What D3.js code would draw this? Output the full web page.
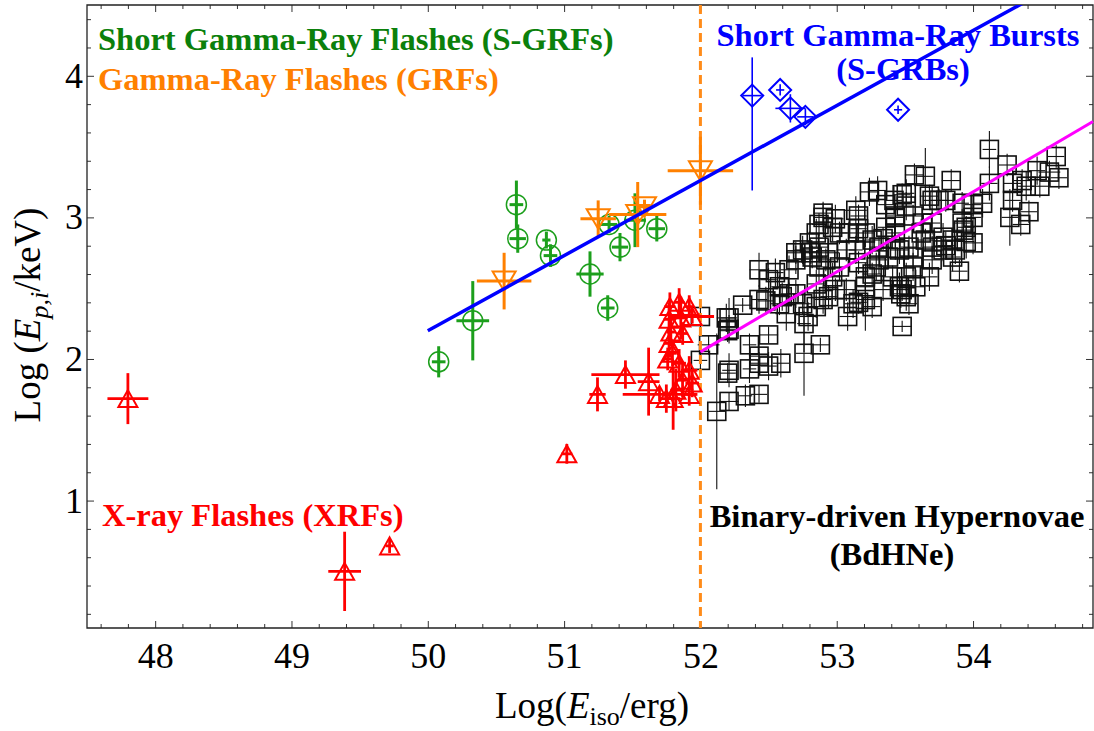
<!DOCTYPE html>
<html><head><meta charset="utf-8">
<script src="https://cdn.jsdelivr.net/npm/d3@7"></script>
<style>
body{margin:0;background:#fff}
svg{display:block}
text{font-family:"Liberation Serif","Times New Roman",serif}
</style>
</head><body>
<svg id="c" width="1094" height="731"></svg>
<script>
// ---------------- DATA ----------------
const xTicks = [48, 49, 50, 51, 52, 53, 54];
const yTicks = [1, 2, 3, 4];

// Short Gamma-Ray Flashes: [logE, logEp, xErr, yErr]
const sgrf = [
  [50.08, 1.98, 0.05, 0.11], [50.33, 2.27, 0.12, 0.28], [50.65, 3.09, 0.05, 0.17],
  [50.66, 2.85, 0.06, 0.10], [50.87, 2.84, 0.03, 0.06], [50.90, 2.73, 0.05, 0.08],
  [51.19, 2.60, 0.10, 0.16], [51.32, 2.36, 0.05, 0.09], [51.33, 2.95, 0.06, 0.06],
  [51.41, 2.79, 0.06, 0.10], [51.52, 2.98, 0.08, 0.19], [51.68, 2.92, 0.06, 0.09]
];
// Gamma-Ray Flashes
const grf = [
  [50.56, 2.55, 0.20, 0.20], [51.25, 2.99, 0.13, 0.13], [51.54, 3.02, 0.21, 0.23],
  [51.59, 3.075, 0.05, 0.05], [52.00, 3.33, 0.24, 0.24]
];
// Short GRBs: [logE, logEp, xLo, xHi, yLo, yHi]
const sgrb = [
  [52.38, 3.86, 0.07, 0.07, 0.67, 0.27], [52.585, 3.90, 0.03, 0.03, 0.04, 0.04],
  [52.66, 3.77, 0.11, 0.11, 0.10, 0.10], [52.77, 3.71, 0.06, 0.06, 0.06, 0.06],
  [53.45, 3.76, 0.03, 0.03, 0.03, 0.03]
];
// X-ray Flashes
const xrf = [
  [47.80, 1.72, 0.15, 0.18], [49.39, 0.50, 0.12, 0.28], [49.72, 0.68, 0.03, 0.05],
  [51.02, 1.33, 0.04, 0.07], [51.245, 1.75, 0.06, 0.12], [51.45, 1.89, 0.25, 0.10],
  [51.62, 1.84, 0.08, 0.24], [51.70, 1.75, 0.27, 0.05], [51.80, 1.72, 0.05, 0.22],
  [51.776, 2.37, 0.04, 0.10], [51.844, 2.40, 0.04, 0.10], [51.918, 2.37, 0.03, 0.08],
  [51.77, 2.28, 0.04, 0.12], [51.856, 2.29, 0.05, 0.15], [51.94, 2.30, 0.16, 0.05],
  [51.783, 2.19, 0.03, 0.10], [51.87, 2.18, 0.04, 0.08], [51.77, 2.11, 0.04, 0.10],
  [51.795, 2.04, 0.03, 0.09], [51.844, 1.97, 0.05, 0.10], [51.76, 2.00, 0.03, 0.08],
  [51.918, 1.92, 0.06, 0.10], [51.869, 1.85, 0.05, 0.12], [51.94, 1.83, 0.05, 0.10],
  [51.82, 1.78, 0.04, 0.15], [51.918, 1.75, 0.06, 0.08], [51.75, 1.72, 0.05, 0.10]
];
// Binary-driven Hypernovae: [logE, logEp, xErr, yErr]
const bdhn = [
  [52.00,2.30,0.06,0.08],[52.06,2.10,0.08,0.07],[52.00,1.99,0.05,0.10],[52.19,2.29,0.07,0.10],
  [52.20,2.20,0.06,0.08],[52.21,1.92,0.05,0.12],[52.12,1.63,0.06,0.55],[52.21,1.70,0.07,0.06],
  [52.33,1.74,0.05,0.08],[52.43,1.75,0.06,0.06],[52.20,1.90,0.06,0.07],[52.36,1.93,0.05,0.10],
  [52.43,1.97,0.07,0.08],[52.50,1.95,0.06,0.10],[52.59,1.97,0.06,0.10],[52.76,2.04,0.06,0.30],
  [52.88,2.10,0.07,0.05],[52.36,2.10,0.05,0.08],[52.43,2.02,0.06,0.10],[52.50,2.17,0.07,0.06],
  [52.21,2.21,0.07,0.10],[52.21,2.29,0.06,0.14],[52.31,2.38,0.06,0.05],[52.43,2.42,0.06,0.10],
  [52.43,2.63,0.07,0.12],[52.55,2.61,0.06,0.10],[52.58,2.51,0.06,0.08],[52.63,2.32,0.08,0.12],
  [52.70,2.70,0.06,0.10],[52.76,2.25,0.05,0.20],[52.75,2.39,0.06,0.08],[52.70,2.46,0.07,0.10],
  [52.82,2.72,0.08,0.08],[52.85,2.53,0.06,0.10],[52.87,2.65,0.07,0.12],[52.90,3.00,0.07,0.10],
  [52.87,2.95,0.05,0.08],[52.99,2.99,0.06,0.10],[53.02,2.89,0.06,0.08],[52.94,2.75,0.08,0.10],
  [52.94,2.44,0.06,0.08],[53.02,2.65,0.06,0.10],[53.07,2.77,0.07,0.08],[53.08,2.30,0.06,0.10],
  [53.14,3.05,0.08,0.10],[53.16,2.92,0.06,0.08],[53.14,2.77,0.05,0.10],[53.16,2.68,0.06,0.08],
  [53.21,2.51,0.06,0.10],[53.21,2.42,0.07,0.22],[53.24,3.18,0.07,0.10],[53.26,2.37,0.06,0.08],
  [53.26,2.84,0.06,0.10],[53.34,2.85,0.07,0.08],[53.36,3.09,0.06,0.10],[53.41,2.58,0.08,0.08],
  [53.42,3.12,0.06,0.10],[53.43,2.78,0.06,0.08],[53.47,2.46,0.07,0.10],[53.48,2.23,0.07,0.04],
  [53.51,3.17,0.06,0.10],[53.53,2.79,0.06,0.08],[53.56,2.65,0.06,0.10],[53.57,3.30,0.07,0.08],
  [53.58,2.51,0.06,0.12],[53.62,2.89,0.06,0.10],[53.65,3.29,0.06,0.20],[53.68,3.15,0.07,0.08],
  [53.70,2.70,0.06,0.10],[53.75,3.12,0.06,0.08],[53.80,2.80,0.06,0.10],[53.84,3.26,0.07,0.08],
  [53.90,2.62,0.06,0.08],[53.92,2.96,0.06,0.10],[53.93,2.91,0.06,0.08],[53.95,2.83,0.06,0.12],
  [54.00,3.09,0.06,0.08],[54.07,3.10,0.07,0.10],[54.12,3.24,0.06,0.12],[54.12,3.48,0.05,0.13],
  [54.25,3.37,0.06,0.08],[54.27,3.00,0.06,0.20],[54.35,2.95,0.06,0.08],[54.29,3.24,0.07,0.10],
  [54.41,3.04,0.06,0.08],[54.39,3.22,0.06,0.10],[54.49,3.22,0.07,0.08],[54.47,3.33,0.06,0.10],
  [54.56,3.32,0.08,0.08],[54.63,3.28,0.06,0.08],[54.61,3.43,0.06,0.08],[54.29,3.12,0.06,0.08],
  [54.36,3.26,0.06,0.08],[53.30,3.19,0.06,0.10],[53.48,3.16,0.06,0.08],[53.70,3.12,0.06,0.10],
  [53.80,3.12,0.06,0.08],[53.92,3.10,0.05,0.08],[53.09,2.89,0.06,0.08],[53.43,3.00,0.06,0.10],
  [53.51,3.08,0.06,0.10],[52.81,2.75,0.06,0.08],[52.87,2.79,0.07,0.10],[52.92,2.70,0.06,0.08],
  [52.97,2.58,0.06,0.10],[53.07,2.49,0.07,0.08],[53.12,2.39,0.06,0.10],[53.16,2.40,0.06,0.08],
  [53.21,2.58,0.06,0.10],[53.26,2.60,0.07,0.08],[53.31,2.70,0.06,0.10],[53.38,2.72,0.06,0.08],
  [53.46,2.77,0.07,0.10],[53.48,2.49,0.06,0.08],[53.51,2.44,0.06,0.10],[53.53,2.39,0.06,0.08],
  [53.46,2.51,0.06,0.10],[53.34,2.49,0.07,0.08],[53.29,2.65,0.06,0.10],[52.99,2.49,0.06,0.08],
  [52.90,2.42,0.06,0.10],[52.85,2.37,0.07,0.08],[52.79,2.30,0.06,0.10],[52.65,2.46,0.06,0.08],
  [52.60,2.44,0.06,0.10],[52.58,2.39,0.07,0.08],[52.48,2.41,0.06,0.10],[52.50,2.56,0.06,0.08],
  [52.65,2.63,0.06,0.10],[52.70,2.75,0.07,0.08],[52.75,2.77,0.06,0.10],[52.80,2.82,0.06,0.08],
  [52.85,2.89,0.06,0.10],[52.90,3.03,0.07,0.08],[52.97,2.93,0.06,0.10],[53.16,3.01,0.06,0.08],
  [53.21,2.89,0.06,0.10],[53.31,2.79,0.07,0.08],[53.36,2.93,0.06,0.10],[53.43,3.01,0.06,0.08],
  [53.43,2.89,0.06,0.10],[53.56,3.01,0.07,0.08],[53.63,2.96,0.06,0.10],[53.70,2.96,0.06,0.08],
  [53.78,2.86,0.06,0.10],[53.85,2.84,0.07,0.08],[53.87,2.77,0.06,0.10],[53.95,2.93,0.06,0.08],
  [54.00,3.00,0.06,0.10],[54.00,2.82,0.07,0.08],[53.85,2.72,0.06,0.10],[53.78,2.77,0.06,0.08],
  [53.68,2.58,0.06,0.10],[53.70,2.79,0.07,0.08],[53.56,2.72,0.06,0.10],[53.65,2.84,0.06,0.08],
  [53.51,2.58,0.06,0.10]
];
// fit lines: [[x0,y0],[x1,y1]]
const sgrbFit = [[50.0, 2.20], [54.88, 4.786]];
const bdhnFit = [[52.0, 2.05], [54.88, 3.677]];
const dividerX = 52;

// ---------------- CHART ----------------
const SERIF = "'Liberation Serif','Times New Roman',serif";
const svg = d3.select("#c");
const x = d3.scaleLinear().domain([47.5, 54.88]).range([87, 1093]);
const y = d3.scaleLinear().domain([0.1, 4.5]).range([628, 5]);

const C = {green:"#1c9f1c", greenT:"#0b800b", orange:"#ff8000", red:"#ff0000",
           blue:"#0000ff", mag:"#ff00ff", black:"#000"};

svg.append("defs").append("clipPath").attr("id","clip")
  .append("rect").attr("x",87).attr("y",5).attr("width",1007).attr("height",623);

const minorX = d3.range(476, 549, 2).map(v => v/10).filter(v => xTicks.indexOf(v) < 0);
const minorY = d3.range(2, 45, 2).map(v => v/10).filter(v => yTicks.indexOf(v) < 0);

function styleAxis(g){ g.select(".domain").remove(); g.selectAll("line").attr("stroke","#333"); }
// bottom
svg.append("g").attr("transform","translate(0,628)")
  .call(d3.axisBottom(x).tickValues(minorX).tickSize(-4).tickFormat("")).call(styleAxis);
svg.append("g").attr("transform","translate(0,628)")
  .call(d3.axisBottom(x).tickValues(xTicks).tickSize(-7).tickPadding(14).tickFormat(d3.format("d")))
  .call(styleAxis).attr("font-family",SERIF).selectAll("text").style("font-size","36px").attr("fill","#000")
  .style("font-family",SERIF);
// top
svg.append("g").attr("transform","translate(0,5)")
  .call(d3.axisTop(x).tickValues(minorX).tickSize(-4).tickFormat("")).call(styleAxis);
svg.append("g").attr("transform","translate(0,5)")
  .call(d3.axisTop(x).tickValues(xTicks).tickSize(-7).tickFormat("")).call(styleAxis);
// left
svg.append("g").attr("transform","translate(87,0)")
  .call(d3.axisLeft(y).tickValues(minorY).tickSize(-4).tickFormat("")).call(styleAxis);
svg.append("g").attr("transform","translate(87,0)")
  .call(d3.axisLeft(y).tickValues(yTicks).tickSize(-7).tickPadding(4).tickFormat(d3.format("d")))
  .call(styleAxis).attr("font-family",SERIF).selectAll("text").style("font-size","36px").attr("fill","#000")
  .style("font-family",SERIF);
// right
svg.append("g").attr("transform","translate(1093,0)")
  .call(d3.axisRight(y).tickValues(minorY).tickSize(-4).tickFormat("")).call(styleAxis);
svg.append("g").attr("transform","translate(1093,0)")
  .call(d3.axisRight(y).tickValues(yTicks).tickSize(-7).tickFormat("")).call(styleAxis);

// frame
svg.append("path").attr("d","M87,5H1093V628H87Z").attr("fill","none").attr("stroke","#222").attr("stroke-width",1.3);

const plot = svg.append("g").attr("clip-path","url(#clip)");

function errBars(g, data, color, w, asym){
  data.forEach(d => {
    const xl = d[2], xh = asym ? d[3] : d[2];
    const yl = asym ? d[4] : d[3], yh = asym ? d[5] : d[3];
    g.append("line").attr("x1",x(d[0]-xl)).attr("x2",x(d[0]+xh)).attr("y1",y(d[1])).attr("y2",y(d[1]))
      .attr("stroke",color).attr("stroke-width",w);
    g.append("line").attr("x1",x(d[0])).attr("x2",x(d[0])).attr("y1",y(d[1]-yl)).attr("y2",y(d[1]+yh))
      .attr("stroke",color).attr("stroke-width",w);
  });
}

// BdHNe squares
const gB = plot.append("g");
errBars(gB, bdhn, "#111", 1.1, false);
gB.selectAll("rect").data(bdhn).join("rect")
  .attr("x", d => x(d[0]) - 9).attr("y", d => y(d[1]) - 9).attr("width",18).attr("height",18)
  .attr("fill","none").attr("stroke","#111").attr("stroke-width",1.6);

// magenta fit
plot.append("path").datum(bdhnFit).attr("d", d3.line().x(d=>x(d[0])).y(d=>y(d[1])))
  .attr("stroke",C.mag).attr("stroke-width",3).attr("fill","none");

// divider
plot.append("line").attr("x1",x(dividerX)).attr("x2",x(dividerX)).attr("y1",5).attr("y2",628)
  .attr("stroke","#ff8c1a").attr("stroke-width",3).attr("stroke-dasharray","9,5");

// S-GRFs
const gG = plot.append("g");
errBars(gG, sgrf, C.green, 3, false);
gG.selectAll("circle").data(sgrf).join("circle")
  .attr("cx", d=>x(d[0])).attr("cy", d=>y(d[1])).attr("r",10)
  .attr("fill","none").attr("stroke",C.green).attr("stroke-width",1.5);

// XRFs
const gR = plot.append("g");
errBars(gR, xrf, C.red, 2.8, false);
gR.selectAll("path").data(xrf).join("path")
  .attr("d", d => { const cx=x(d[0]), cy=y(d[1]); return `M${cx},${cy-8.5}L${cx+9.5},${cy+8.5}L${cx-9.5},${cy+8.5}Z`; })
  .attr("fill","none").attr("stroke",C.red).attr("stroke-width",2);

// GRFs
const gO = plot.append("g");
errBars(gO, grf, C.orange, 3, false);
gO.selectAll("path.t").data(grf).join("path").attr("class","t")
  .attr("d", d => { const cx=x(d[0]), cy=y(d[1]); return `M${cx-11.5},${cy-9.5}L${cx+11.5},${cy-9.5}L${cx},${cy+10}Z`; })
  .attr("fill","none").attr("stroke",C.orange).attr("stroke-width",2);

// S-GRBs
const gS = plot.append("g");
errBars(gS, sgrb, C.blue, 1.6, true);
gS.selectAll("path.dm").data(sgrb).join("path").attr("class","dm")
  .attr("d", d => { const cx=x(d[0]), cy=y(d[1]); return `M${cx},${cy-11}L${cx+11},${cy}L${cx},${cy+11}L${cx-11},${cy}Z`; })
  .attr("fill","none").attr("stroke",C.blue).attr("stroke-width",2);

// blue fit
plot.append("path").datum(sgrbFit).attr("d", d3.line().x(d=>x(d[0])).y(d=>y(d[1])))
  .attr("stroke",C.blue).attr("stroke-width",3.5).attr("fill","none");

// annotations
function label(t, px, py, color, anchor){
  svg.append("text").attr("x",px).attr("y",py).attr("fill",color).attr("text-anchor",anchor||"start")
    .attr("font-family",SERIF).style("font-family",SERIF)
    .style("font-size","32.5px").style("font-weight","bold").text(t);
}
label("Short Gamma-Ray Flashes (S-GRFs)", 98, 50, C.greenT);
label("Gamma-Ray Flashes (GRFs)", 98, 90, C.orange);
label("Short Gamma-Ray Bursts", 898, 46, C.blue, "middle");
label("(S-GRBs)", 903, 80, C.blue, "middle");
label("X-ray Flashes (XRFs)", 102, 526, C.red);
label("Binary-driven Hypernovae", 897, 527, "#000", "middle");
label("(BdHNe)", 892, 565, "#000", "middle");

// axis titles
const xt = svg.append("text").attr("x",592).attr("y",718).attr("text-anchor","middle")
  .style("font-family",SERIF).style("font-size","37px");
xt.append("tspan").text("Log(");
xt.append("tspan").attr("font-style","italic").text("E");
xt.append("tspan").attr("font-size","26px").attr("dy",7).text("iso");
xt.append("tspan").attr("dy",-7).text("/erg)");

const yt = svg.append("text").attr("transform","translate(40,315) rotate(-90)").attr("text-anchor","middle")
  .style("font-family",SERIF).style("font-size","37px");
yt.append("tspan").text("Log (");
yt.append("tspan").attr("font-style","italic").text("E");
yt.append("tspan").attr("font-style","italic").attr("font-size","26px").attr("dy",8).text("p,i");
yt.append("tspan").attr("dy",-8).text("/keV)");
</script>
</body></html>
